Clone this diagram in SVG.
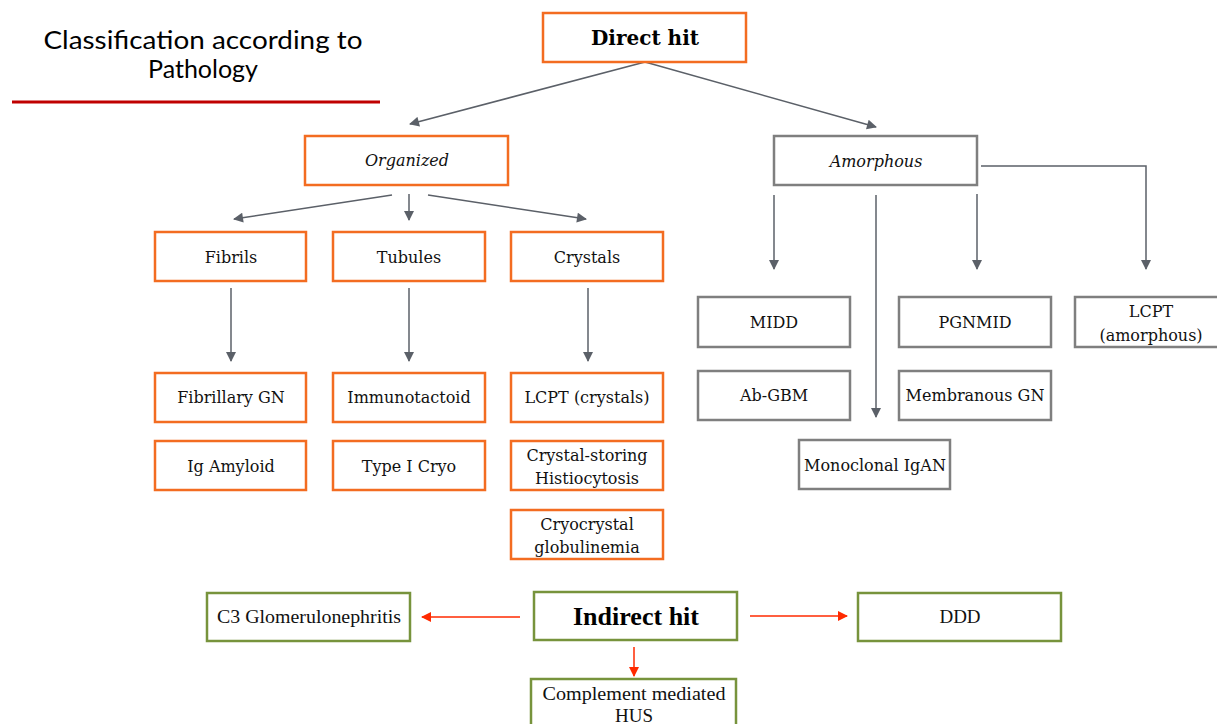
<svg xmlns="http://www.w3.org/2000/svg" width="1217" height="724" viewBox="0 0 1217 724">
<defs>
<style>
.o{fill:#fff;stroke:#f36c21;stroke-width:2.5}
.g{fill:#fff;stroke:#7f7f7f;stroke-width:2.5}
.gr{fill:#fff;stroke:#77933c;stroke-width:2.5}
.t{font-family:"DejaVu Serif",serif;font-size:16px;fill:#111;text-anchor:middle}
.it{font-style:italic}
.b{font-family:"DejaVu Serif",serif;font-weight:bold;font-size:20px;fill:#000;text-anchor:middle}
.n{font-family:"Liberation Serif",serif;font-size:19px;fill:#111;text-anchor:middle}
.c{stroke:#5b6068;stroke-width:1.5;fill:none;marker-end:url(#ag)}
.r{stroke:#ff2a00;stroke-width:1.5;fill:none;marker-end:url(#ar)}
</style>
<marker id="ag" viewBox="0 0 10 10" refX="9" refY="5" markerWidth="11" markerHeight="10" orient="auto" markerUnits="userSpaceOnUse"><path d="M0,0 L10,5 L0,10 z" fill="#5b6068"/></marker>
<marker id="ar" viewBox="0 0 10 10" refX="9" refY="5" markerWidth="10" markerHeight="10" orient="auto" markerUnits="userSpaceOnUse"><path d="M0,0 L10,5 L0,10 z" fill="#ff2a00"/></marker>
</defs>
<rect width="1217" height="724" fill="#fff"/>
<g id="title">
<text x="203" y="49" font-family="Lato,sans-serif" font-size="25" fill="#000" text-anchor="middle" textLength="319" lengthAdjust="spacingAndGlyphs">Classification according to</text>
<text x="203" y="78" font-family="Lato,sans-serif" font-size="25" fill="#000" text-anchor="middle">Pathology</text>
<line x1="12" y1="102" x2="380" y2="102" stroke="#c00000" stroke-width="3"/>
</g>
<g id="connectors">
<line class="c" x1="645" y1="62" x2="410" y2="124"/>
<line class="c" x1="645" y1="62" x2="876" y2="127"/>
<line class="c" x1="392" y1="195" x2="234" y2="219"/>
<line class="c" x1="409" y1="194" x2="409" y2="220"/>
<line class="c" x1="428" y1="195" x2="586" y2="219"/>
<line class="c" x1="231" y1="288" x2="231" y2="361"/>
<line class="c" x1="409" y1="288" x2="409" y2="361"/>
<line class="c" x1="588" y1="288" x2="588" y2="361"/>
<line class="c" x1="774" y1="195" x2="774" y2="269"/>
<line class="c" x1="876" y1="195" x2="876" y2="417"/>
<line class="c" x1="977" y1="194" x2="977" y2="269"/>
<polyline class="c" points="981,166 1146,166 1146,269"/>
<line class="r" x1="520" y1="617" x2="422" y2="617"/>
<line class="r" x1="750" y1="616" x2="847" y2="616"/>
<line class="r" x1="634" y1="647" x2="634" y2="676"/>
</g>
<g id="direct-hit"><rect class="o" x="543" y="13" width="203" height="49"/><text class="b" x="645" y="45">Direct hit</text></g>
<g id="organized"><rect class="o" x="305" y="136" width="203" height="49"/><text class="t it" x="407" y="166">Organized</text></g>
<g id="amorphous"><rect class="g" x="774" y="136" width="203" height="49"/><text class="t it" x="876" y="167">Amorphous</text></g>
<g id="fibrils"><rect class="o" x="155" y="232" width="151" height="49"/><text class="t" x="231" y="263">Fibrils</text></g>
<g id="tubules"><rect class="o" x="333" y="232" width="152" height="49"/><text class="t" x="409" y="263">Tubules</text></g>
<g id="crystals"><rect class="o" x="511" y="232" width="152" height="49"/><text class="t" x="587" y="263">Crystals</text></g>
<g id="fibrillary-gn"><rect class="o" x="155" y="373" width="151" height="49"/><text class="t" x="231" y="403">Fibrillary GN</text></g>
<g id="immunotactoid"><rect class="o" x="333" y="373" width="152" height="49"/><text class="t" x="409" y="403">Immunotactoid</text></g>
<g id="lcpt-crystals"><rect class="o" x="511" y="373" width="152" height="49"/><text class="t" x="587" y="403">LCPT (crystals)</text></g>
<g id="ig-amyloid"><rect class="o" x="155" y="441" width="151" height="49"/><text class="t" x="231" y="472">Ig Amyloid</text></g>
<g id="type-i-cryo"><rect class="o" x="333" y="441" width="152" height="49"/><text class="t" x="409" y="472">Type I Cryo</text></g>
<g id="crystal-storing"><rect class="o" x="511" y="441" width="152" height="49"/><text class="t" x="587" y="461">Crystal-storing</text><text class="t" x="587" y="484">Histiocytosis</text></g>
<g id="cryocrystal"><rect class="o" x="511" y="510" width="152" height="49"/><text class="t" x="587" y="530">Cryocrystal</text><text class="t" x="587" y="553">globulinemia</text></g>
<g id="midd"><rect class="g" x="698" y="297" width="152" height="50"/><text class="t" x="774" y="328">MIDD</text></g>
<g id="pgnmid"><rect class="g" x="899" y="297" width="152" height="50"/><text class="t" x="975" y="328">PGNMID</text></g>
<g id="lcpt-amorphous"><rect class="g" x="1075" y="297" width="150" height="50"/><text class="t" x="1151" y="317">LCPT</text><text class="t" x="1151" y="341">(amorphous)</text></g>
<g id="ab-gbm"><rect class="g" x="698" y="371" width="152" height="49"/><text class="t" x="774" y="401">Ab-GBM</text></g>
<g id="membranous-gn"><rect class="g" x="899" y="371" width="152" height="49"/><text class="t" x="975" y="401">Membranous GN</text></g>
<g id="monoclonal-igan"><rect class="g" x="799" y="440" width="151" height="49"/><text class="t" x="875" y="471">Monoclonal IgAN</text></g>
<g id="indirect-hit"><rect class="gr" x="534" y="592" width="203" height="48"/><text x="636" y="625" font-family="Liberation Serif,serif" font-weight="bold" font-size="25" fill="#000" text-anchor="middle" textLength="126" lengthAdjust="spacingAndGlyphs">Indirect hit</text></g>
<g id="c3gn"><rect class="gr" x="207" y="593" width="203" height="48"/><text class="n" x="309" y="623" textLength="184" lengthAdjust="spacingAndGlyphs">C3 Glomerulonephritis</text></g>
<g id="ddd"><rect class="gr" x="858" y="593" width="203" height="48"/><text class="n" x="960" y="623">DDD</text></g>
<g id="hus"><rect class="gr" x="531" y="679" width="205" height="60"/><text class="n" x="634" y="700" textLength="183" lengthAdjust="spacingAndGlyphs">Complement mediated</text><text class="n" x="634" y="722">HUS</text></g>
</svg>
